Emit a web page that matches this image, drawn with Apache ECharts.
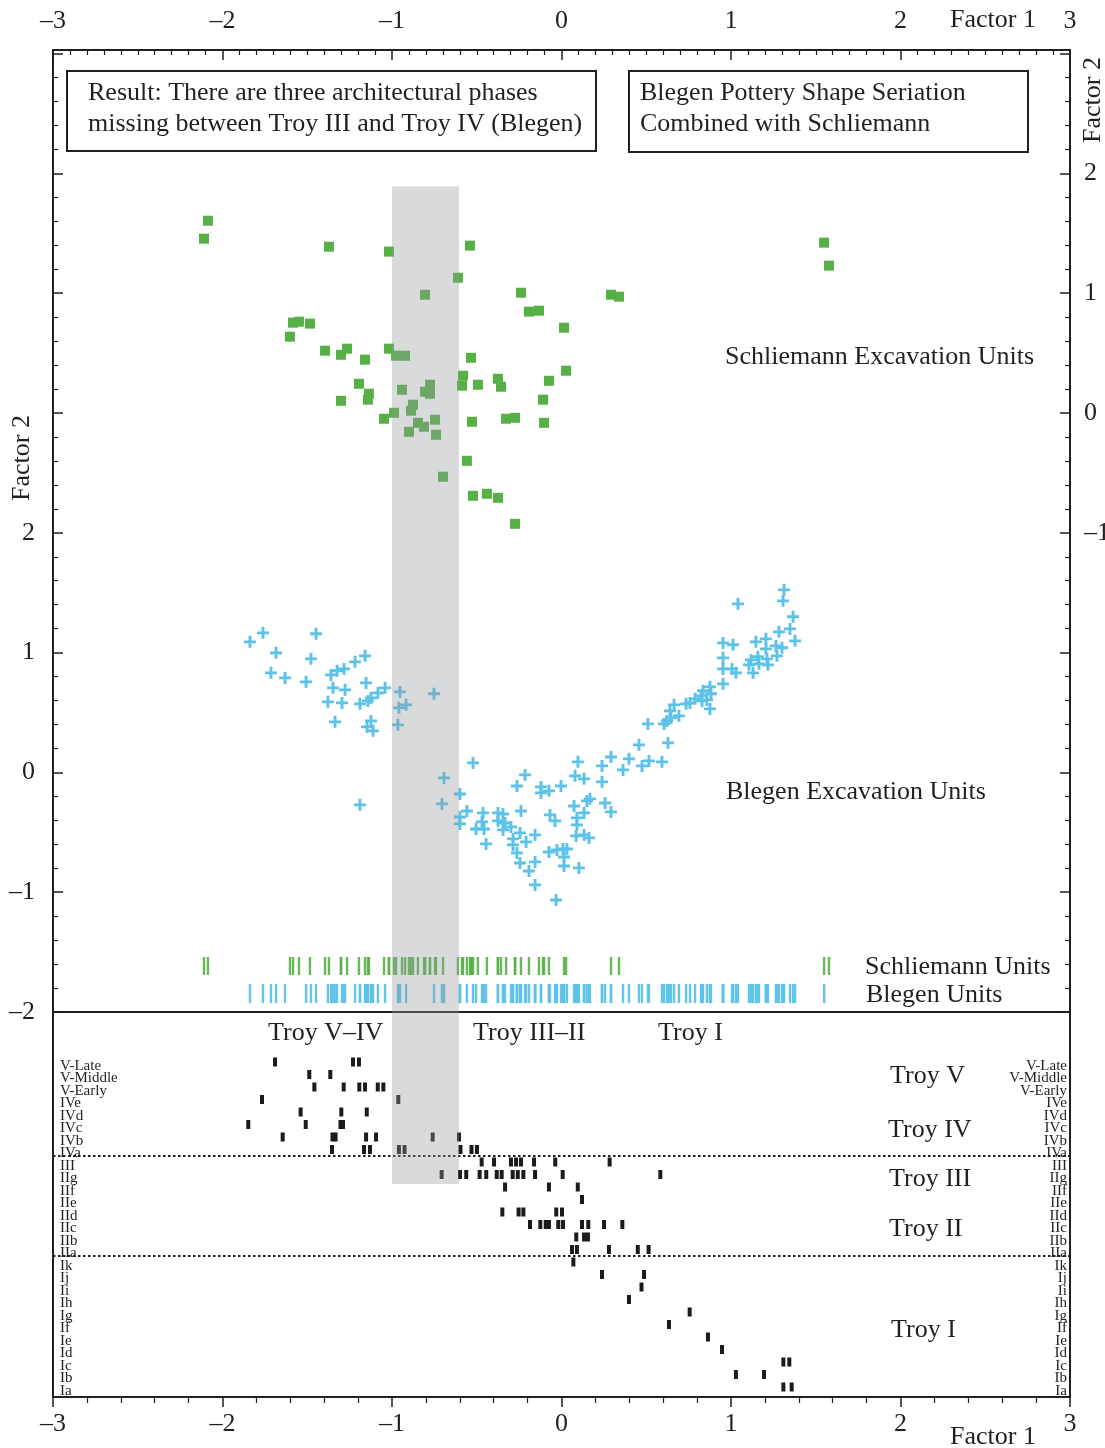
<!DOCTYPE html>
<html><head><meta charset="utf-8">
<script src="https://cdn.jsdelivr.net/npm/echarts@6/dist/echarts.min.js"></script>
<style>html,body{margin:0;padding:0;background:#fff}#c{width:1105px;height:1448px}</style>
</head><body><div id="c"></div>
<script>
// ---------- DATA ----------
const factor1Ticks = [-3, -2, -1, 0, 1, 2, 3];
const blegenTicks = [-2, -1, 0, 1, 2];
const schliemannTicks = [-1, 0, 1, 2];

// Schliemann excavation units [Factor 1, Factor 2 (right axis)]
const schliemann = [
[-2.086,1.605],[-2.109,1.455],[-1.372,1.388],[-1.018,1.347],[-0.540,1.397],[-0.611,1.129],[-0.805,0.987],[-0.239,1.004],
[0.292,0.987],[0.339,0.971],[-0.192,0.846],[-0.133,0.854],[-1.584,0.754],[-1.549,0.762],[-1.484,0.746],[-1.602,0.637],
[0.015,0.712],[-1.395,0.520],[-1.301,0.486],[-1.265,0.537],[-1.159,0.445],[-1.018,0.537],[-0.976,0.478],[-0.923,0.478],
[-0.534,0.461],[0.027,0.353],[-0.074,0.269],[-1.195,0.244],[-1.136,0.161],[-1.142,0.111],[-1.301,0.102],[-0.941,0.194],
[-0.776,0.236],[-0.805,0.177],[-0.776,0.161],[-0.581,0.311],[-0.587,0.228],[-0.493,0.236],[-0.375,0.286],[-0.357,0.219],
[-0.109,0.111],[-0.876,0.069],[-0.888,0.019],[-0.988,0.002],[-1.047,-0.048],[-0.847,-0.082],[-0.811,-0.115],[-0.746,-0.056],
[-0.900,-0.157],[-0.740,-0.182],[-0.528,-0.073],[-0.327,-0.048],[-0.274,-0.040],[-0.103,-0.082],[-0.558,-0.399],[-0.699,-0.532],
[-0.522,-0.691],[-0.440,-0.674],[-0.375,-0.708],[-0.274,-0.925],[1.549,1.422],[1.578,1.230]
];

// Blegen excavation units [Factor 1, Factor 2 (left axis)]
const blegen = [
[-1.838,1.090],[-1.761,1.165],[-1.448,1.157],[-1.684,0.998],[-1.478,0.948],[-1.218,0.923],[-1.159,0.973],[-1.714,0.831],
[-1.631,0.789],[-1.507,0.756],[-1.360,0.814],[-1.324,0.848],[-1.283,0.864],[-1.348,0.706],[-1.277,0.689],[-1.153,0.747],
[-1.041,0.706],[-1.083,0.664],[-1.124,0.622],[-1.142,0.597],[-1.378,0.589],[-1.295,0.580],[-1.189,0.572],[-0.953,0.672],
[-0.752,0.656],[-0.917,0.564],[-0.959,0.539],[-1.336,0.422],[-1.124,0.430],[-1.147,0.380],[-1.112,0.347],[-0.965,0.397],
[-1.189,-0.271],
[-0.693,-0.046],[-0.705,-0.263],[-0.522,0.079],[-0.599,-0.180],[-0.263,-0.113],[-0.215,-0.021],[-0.558,-0.322],[-0.599,-0.372],
[-0.599,-0.430],[-0.463,-0.338],[-0.375,-0.338],[-0.345,-0.347],[-0.239,-0.322],[-0.469,-0.413],[-0.504,-0.472],[-0.457,-0.472],
[-0.445,-0.597],[-0.375,-0.405],[-0.333,-0.422],[-0.298,-0.455],[-0.345,-0.480],[-0.245,-0.505],[-0.286,-0.555],[-0.286,-0.605],
[-0.263,-0.672],[-0.209,-0.580],[-0.156,-0.522],[-0.245,-0.756],[-0.156,-0.747],[-0.192,-0.823],[-0.156,-0.939],[-0.032,-1.065],
[-0.121,-0.121],[-0.121,-0.171],[-0.074,-0.154],[-0.003,-0.113],[-0.068,-0.355],[-0.038,-0.405],[-0.074,-0.664],[-0.027,-0.647],
[0.009,-0.639],[0.032,-0.639],[0.015,-0.706],[0.015,-0.781],[0.103,-0.797],[0.097,0.088],[0.080,-0.029],[0.133,-0.054],
[0.239,0.054],[0.292,0.129],[0.239,-0.079],[0.363,0.021],[0.398,0.113],[0.475,0.054],[0.516,0.096],[0.593,0.088],
[0.457,0.230],[0.628,0.246],[0.074,-0.280],[0.133,-0.338],[0.150,-0.238],[0.168,-0.221],[0.091,-0.380],[0.091,-0.438],
[0.086,-0.530],[0.133,-0.522],[0.162,-0.547],[0.257,-0.255],[0.292,-0.330],
[1.313,1.524],[1.307,1.432],[1.041,1.407],[1.366,1.299],[1.348,1.198],[1.283,1.173],[1.378,1.098],[0.953,1.081],
[1.012,1.065],[1.147,1.090],[1.206,1.115],[1.265,1.056],[1.301,1.040],[1.206,1.031],[1.271,0.973],[0.953,0.956],
[1.118,0.939],[1.159,0.965],[1.212,0.948],[1.106,0.898],[1.165,0.906],[1.218,0.898],[0.953,0.864],[1.006,0.864],
[1.029,0.831],[1.130,0.831],[0.953,0.739],[0.876,0.714],[0.882,0.656],[0.835,0.681],[0.823,0.639],[0.788,0.614],
[0.758,0.580],[0.858,0.605],[0.829,0.597],[0.876,0.530],[0.735,0.572],[0.664,0.564],[0.640,0.514],[0.693,0.472],
[0.646,0.455],[0.622,0.430],[0.605,0.405],[0.510,0.405]
];
const blegenRugExtra = [1.55];

// Architectural phases, top to bottom
const phases = ['V-Late','V-Middle','V-Early','IVe','IVd','IVc','IVb','IVa','III','IIg','IIf','IIe','IId','IIc','IIb','IIa',
'Ik','Ij','Ii','Ih','Ig','If','Ie','Id','Ic','Ib','Ia'];

// Units per phase [Factor 1, phase]
const phaseUnits = [
[-1.690,'V-Late'],[-1.230,'V-Late'],[-1.195,'V-Late'],
[-1.488,'V-Middle'],[-1.364,'V-Middle'],
[-1.458,'V-Early'],[-1.285,'V-Early'],[-1.193,'V-Early'],[-1.159,'V-Early'],[-1.084,'V-Early'],[-1.051,'V-Early'],
[-1.767,'IVe'],[-0.963,'IVe'],
[-1.539,'IVd'],[-1.299,'IVd'],[-1.149,'IVd'],
[-1.848,'IVc'],[-1.509,'IVc'],[-1.304,'IVc'],[-1.289,'IVc'],
[-1.645,'IVb'],[-1.351,'IVb'],[-1.333,'IVb'],[-1.153,'IVb'],[-1.094,'IVb'],[-0.760,'IVb'],[-0.605,'IVb'],
[-1.354,'IVa'],[-1.165,'IVa'],[-1.130,'IVa'],[-0.959,'IVa'],[-0.926,'IVa'],[-0.596,'IVa'],[-0.531,'IVa'],[-0.499,'IVa'],
[-0.471,'III'],[-0.398,'III'],[-0.298,'III'],[-0.268,'III'],[-0.239,'III'],[-0.162,'III'],[-0.037,'III'],[0.284,'III'],
[-0.707,'IIg'],[-0.599,'IIg'],[-0.562,'IIg'],[-0.483,'IIg'],[-0.444,'IIg'],[-0.382,'IIg'],[-0.353,'IIg'],[-0.288,'IIg'],
[-0.258,'IIg'],[-0.225,'IIg'],[-0.156,'IIg'],[0.007,'IIg'],[0.583,'IIg'],
[-0.333,'IIf'],[-0.074,'IIf'],[0.096,'IIf'],
[0.121,'IIe'],
[-0.349,'IId'],[-0.253,'IId'],[-0.225,'IId'],[-0.031,'IId'],[0.003,'IId'],
[-0.186,'IIc'],[-0.125,'IIc'],[-0.093,'IIc'],[-0.074,'IIc'],[-0.019,'IIc'],[0.009,'IIc'],[0.121,'IIc'],[0.158,'IIc'],[0.251,'IIc'],[0.359,'IIc'],
[0.087,'IIb'],[0.133,'IIb'],[0.156,'IIb'],
[0.062,'IIa'],[0.091,'IIa'],[0.280,'IIa'],[0.450,'IIa'],[0.514,'IIa'],
[0.070,'Ik'],
[0.239,'Ij'],[0.487,'Ij'],
[0.472,'Ii'],
[0.398,'Ih'],
[0.756,'Ig'],
[0.634,'If'],
[0.864,'Ie'],
[0.947,'Id'],
[1.309,'Ic'],[1.344,'Ic'],
[1.029,'Ib'],[1.195,'Ib'],
[1.309,'Ia'],[1.358,'Ia']
];

// Gray band (Factor 1 range) and phase separators (row index, Ia = 0)
const bandX = [-1.0, -0.605];
const bandTopF2 = 4.89;
const bandBottomRow = 16.24;
const separatorRows = [18.5, 10.5];
const rugRowF2 = [-1.616, -1.846];

// ---------- CHART ----------
const FONT = '"Liberation Serif","Times New Roman",serif';
const INK = '#231f20';
const GREEN = '#56b046';
const BLUE = '#5cc2e8';
const fmt = v => v < 0 ? '\u2013' + Math.abs(v) : String(v);
const pick = list => v => list.indexOf(Math.round(v * 1000) / 1000) >= 0 ? fmt(v) : '';
const plus = 'path://M3.8,0H6.2V3.8H10V6.2H6.2V10H3.8V6.2H0V3.8H3.8Z';

const chart = echarts.init(document.getElementById('c'), null, {renderer: 'canvas'});
const lineS = {color: INK, width: 2};
const labelS = {color: INK, fontFamily: FONT, fontSize: 26};

function txt(t, x, y, extra) {
  return Object.assign({type: 'text', x: x, y: y, z: 50,
    style: {text: t, fill: INK, font: '26px ' + FONT, align: 'left', verticalAlign: 'middle',
            textAlign: 'left', textVerticalAlign: 'middle'}}, extra || {});
}

const gridBase = {left: 53, width: 1017, outerBoundsMode: 'none', containLabel: false};
const rowLabel = {inside: true, interval: 0, color: INK, fontFamily: FONT, fontSize: 15, lineHeight: 8, verticalAlign: 'top'};

const option = {
  animation: false,
  backgroundColor: '#fff',
  grid: [
    Object.assign({top: 50, height: 962, show: true, borderColor: INK, borderWidth: 2, backgroundColor: 'transparent'}, gridBase),
    Object.assign({top: 1012, height: 385, show: true, borderColor: INK, borderWidth: 2, backgroundColor: 'transparent'}, gridBase),
    Object.assign({top: 1055.75, height: 337.5, show: false}, gridBase)
  ],
  xAxis: [
    {gridIndex: 0, type: 'value', position: 'top', min: -3, max: 3, interval: 1,
     axisLine: {show: true, onZero: false, lineStyle: lineS}, splitLine: {show: false},
     axisTick: {show: true, inside: true, length: 10, lineStyle: {color: INK, width: 1.5}},
     minorTick: {show: true, splitNumber: 10, length: 5, lineStyle: {color: INK, width: 1.2}},
     axisLabel: Object.assign({margin: 16, formatter: pick(factor1Ticks)}, labelS)},
    {gridIndex: 1, type: 'value', position: 'bottom', min: -3, max: 3, interval: 1,
     axisLine: {show: true, onZero: false, lineStyle: lineS}, splitLine: {show: false},
     axisTick: {show: true, inside: false, length: 10, lineStyle: {color: INK, width: 1.5}},
     minorTick: {show: true, splitNumber: 5, length: 6, lineStyle: {color: INK, width: 1.2}},
     axisLabel: Object.assign({margin: 14, formatter: pick(factor1Ticks)}, labelS)},
    {gridIndex: 2, type: 'value', min: -3, max: 3, show: false, axisLine: {onZero: false}}
  ],
  yAxis: [
    {gridIndex: 0, type: 'value', position: 'left', min: -2, max: 6.03, interval: 1,
     axisLine: {show: true, onZero: false, lineStyle: lineS}, splitLine: {show: false},
     axisTick: {show: true, inside: true, length: 10, lineStyle: {color: INK, width: 1.5}},
     minorTick: {show: true, splitNumber: 5, length: 5, lineStyle: {color: INK, width: 1.2}},
     axisLabel: Object.assign({margin: 18, formatter: pick(blegenTicks)}, labelS)},
    {gridIndex: 0, type: 'value', position: 'right', min: -5, max: 3.03, interval: 1,
     axisLine: {show: true, onZero: false, lineStyle: lineS}, splitLine: {show: false},
     axisTick: {show: true, inside: true, length: 10, lineStyle: {color: INK, width: 1.5}},
     minorTick: {show: true, splitNumber: 5, length: 5, lineStyle: {color: INK, width: 1.2}},
     axisLabel: Object.assign({margin: 14, formatter: pick(schliemannTicks)}, labelS)},
    {gridIndex: 1, type: 'value', min: -0.8, max: 30, show: false, axisLine: {onZero: false}},
    {gridIndex: 2, type: 'category', inverse: true, position: 'left', data: phases,
     axisLine: {show: false, onZero: false}, axisTick: {show: false}, splitLine: {show: false},
     axisLabel: Object.assign({margin: 7, align: 'left'}, rowLabel)},
    {gridIndex: 2, type: 'category', inverse: true, position: 'right', data: phases,
     axisLine: {show: false, onZero: false}, axisTick: {show: false}, splitLine: {show: false},
     axisLabel: Object.assign({margin: 3, align: 'right'}, rowLabel)}
  ],
  series: [
    {type: 'scatter', name: 'Schliemann', xAxisIndex: 0, yAxisIndex: 1, data: schliemann, silent: true,
     symbol: 'rect', symbolSize: 10, itemStyle: {color: GREEN, opacity: 1}},
    {type: 'scatter', name: 'Blegen', xAxisIndex: 0, yAxisIndex: 0, data: blegen, silent: true,
     symbol: plus, symbolSize: 12, itemStyle: {color: BLUE, opacity: 1}},
    {type: 'scatter', name: 'Schliemann rug', xAxisIndex: 0, yAxisIndex: 0, silent: true,
     data: schliemann.map(p => [p[0], rugRowF2[0]]),
     symbol: 'rect', symbolSize: [2.4, 18], itemStyle: {color: GREEN, opacity: 0.9}},
    {type: 'scatter', name: 'Blegen rug', xAxisIndex: 0, yAxisIndex: 0, silent: true,
     data: blegen.map(p => p[0]).concat(blegenRugExtra).map(x => [x, rugRowF2[1]]),
     symbol: 'rect', symbolSize: [2.4, 19], itemStyle: {color: BLUE, opacity: 0.95},
     markArea: {silent: true, z: 10, itemStyle: {color: 'rgba(150,152,158,0.36)'},
       data: [[{xAxis: bandX[0], yAxis: bandTopF2}, {xAxis: bandX[1], yAxis: -2}]]}},
    {type: 'scatter', name: 'Phases', xAxisIndex: 2, yAxisIndex: 3, data: phaseUnits, silent: true,
     symbol: 'rect', symbolSize: [4, 9], itemStyle: {color: '#1b1b1b', opacity: 1}},
    {type: 'scatter', name: 'lower', xAxisIndex: 1, yAxisIndex: 2, data: [], silent: true,
     markArea: {silent: true, z: 10, itemStyle: {color: 'rgba(150,152,158,0.36)'},
       data: [[{xAxis: bandX[0], yAxis: 30}, {xAxis: bandX[1], yAxis: bandBottomRow}]]},
     markLine: {silent: true, symbol: 'none', label: {show: false}, z: 6,
       lineStyle: {color: INK, width: 2, type: [2.5, 2.5]},
       data: separatorRows.map(r => ({yAxis: r}))}}
  ],
  graphic: [
    {type: 'rect', z: 40, shape: {x: 67, y: 71, width: 529, height: 80}, style: {fill: 'none', stroke: INK, lineWidth: 2}},
    {type: 'rect', z: 40, shape: {x: 629, y: 71, width: 399, height: 81}, style: {fill: 'none', stroke: INK, lineWidth: 2}},
    txt('Result: There are three architectural phases', 88, 93),
    txt('missing between Troy III and Troy IV (Blegen)', 88, 124),
    txt('Blegen Pottery Shape Seriation', 640, 93),
    txt('Combined with Schliemann', 640, 124),
    txt('Schliemann Excavation Units', 725, 357),
    txt('Blegen Excavation Units', 726, 792),
    txt('Schliemann Units', 865, 967),
    txt('Blegen Units', 866, 995),
    txt('Troy V\u2013IV', 268, 1033),
    txt('Troy III\u2013II', 473, 1033),
    txt('Troy I', 658, 1033),
    txt('Troy V', 890, 1076),
    txt('Troy IV', 888, 1130),
    txt('Troy III', 889, 1179),
    txt('Troy II', 889, 1229),
    txt('Troy I', 891, 1330),
    txt('Factor 1', 950, 20),
    txt('Factor 1', 950, 1437),
    {type: 'text', x: 22, y: 458, rotation: Math.PI / 2, z: 50,
     style: {text: 'Factor 2', fill: INK, font: '26px ' + FONT, align: 'center', verticalAlign: 'middle', textAlign: 'center', textVerticalAlign: 'middle'}},
    {type: 'text', x: 1093, y: 100, rotation: Math.PI / 2, z: 50,
     style: {text: 'Factor 2', fill: INK, font: '26px ' + FONT, align: 'center', verticalAlign: 'middle', textAlign: 'center', textVerticalAlign: 'middle'}}
  ]
};
chart.setOption(option);
</script>
</body></html>
